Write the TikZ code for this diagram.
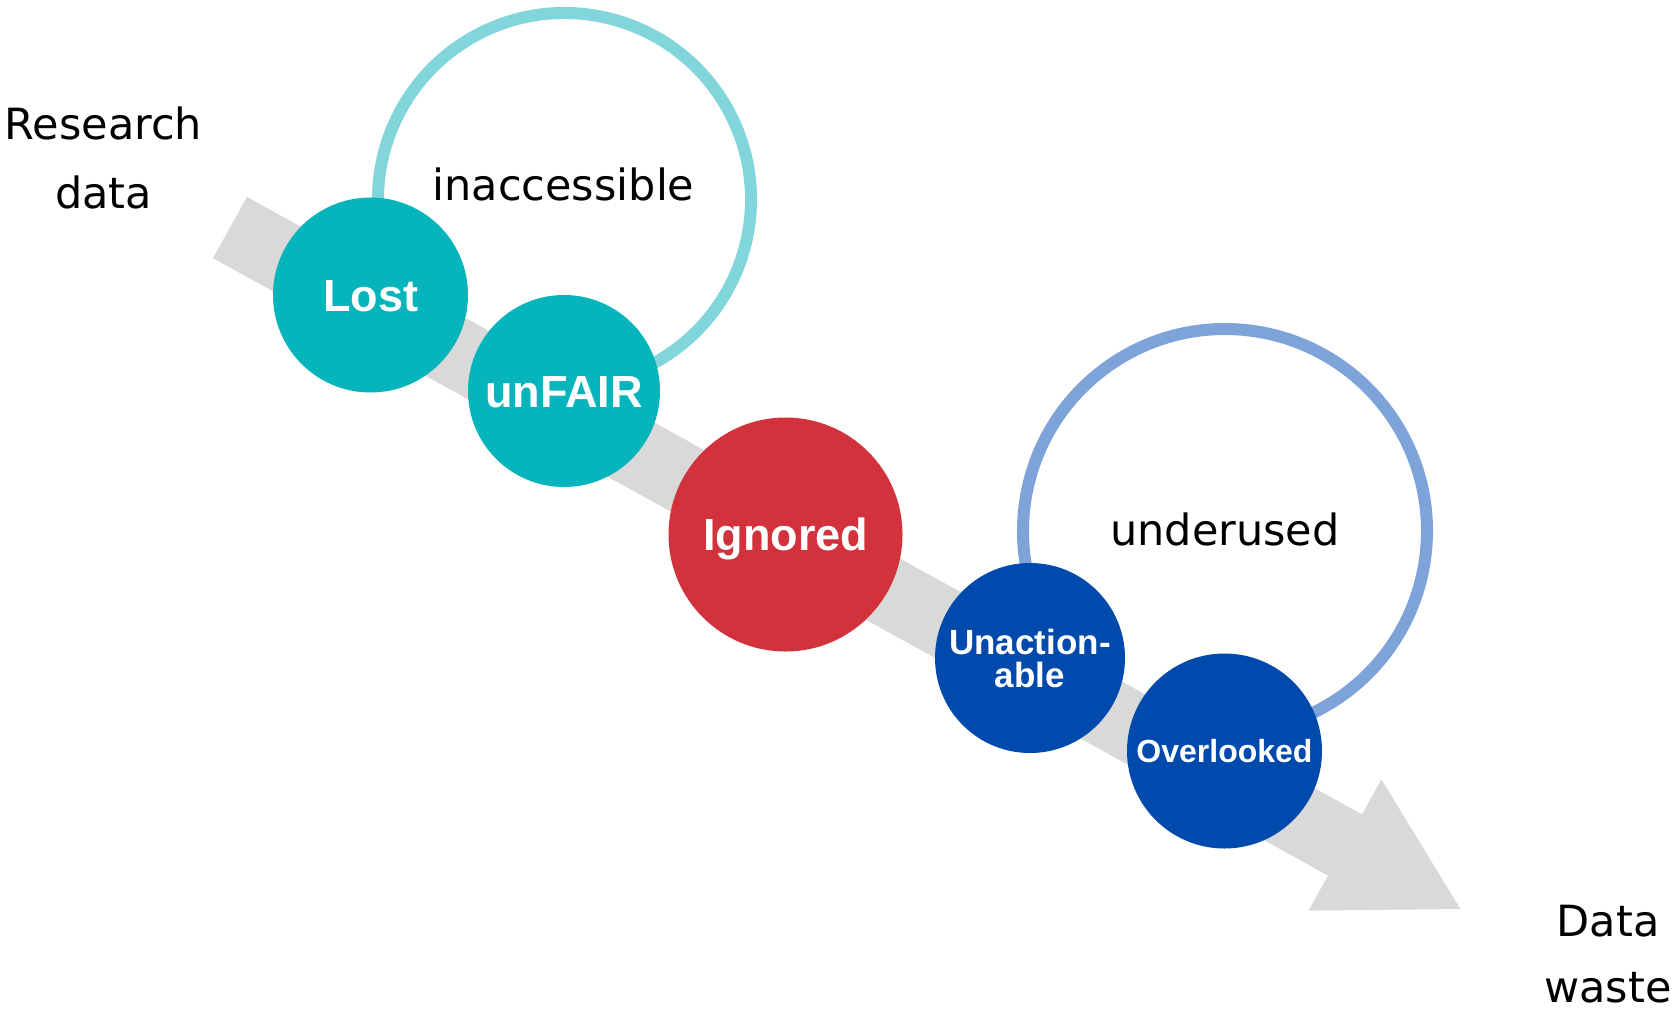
\documentclass[tikz,border=0pt]{standalone}
\usepackage{fontspec}
\setmainfont{DejaVu Sans}
\newfontfamily\labfont{Liberation Sans}
\definecolor{tealc}{RGB}{6,180,188}
\definecolor{ringa}{RGB}{128,214,219}
\definecolor{redc}{RGB}{210,50,59}
\definecolor{bluec}{RGB}{0,73,173}
\definecolor{ringb}{RGB}{125,163,216}
\definecolor{arrowgray}{RGB}{217,217,217}
\begin{document}
\begin{tikzpicture}[x=1pt,y=-1pt,
  plain/.style={font=\fontsize{43}{69}\selectfont, align=center, text=black, inner sep=0pt},
  bubble/.style={circle, inner sep=0pt, text=white, font=\labfont\bfseries\fontsize{45}{45}\selectfont, text height=32pt, text depth=0pt},
  ring/.style={line width=12pt}
]
\useasboundingbox (0,0) rectangle (1675,1013);
\fill[white] (0,0) rectangle (1675,1013);

% grey arrow
\fill[arrowgray] (247,196.9) -- (1362,814.4) -- (1381.4,779.4) -- (1460.4,909)
  -- (1308.6,910.6) -- (1328,875.6) -- (213,258.1) -- cycle;

% rings (open arcs, ends hidden under the circles)
\coordinate (ringac) at (564.5,199.5);
\coordinate (ringbc) at (1225,531);
\draw[ring, ringa] ([shift={(150:186.5)}]ringac) arc[start angle=150, end angle=455, radius=186.5];
\draw[ring, ringb] ([shift={(143:202)}]ringbc) arc[start angle=143, end angle=455, radius=202];

% circles
\node[bubble, fill=tealc, minimum size=195pt] (lost) at (370.5,295) {Lost};
\node[bubble, fill=tealc, minimum size=192pt] (unfair) at (564,391) {unFAIR};
\node[bubble, fill=redc, minimum size=234pt] (ignored) at (785.5,534.5) {Ignored};
\node[circle, inner sep=0pt, text=white, fill=bluec, minimum size=190pt, align=center,
      font=\labfont\bfseries\fontsize{35}{33}\selectfont] (unaction) at (1030,658) {Unaction-\\able};
\node[bubble, fill=bluec, minimum size=195pt, font=\labfont\bfseries\fontsize{32}{32}\selectfont, text height=23pt] (overlooked) at (1224.5,751) {Overlooked};

% labels
\node[plain] (research) at (103.5,158) {Research\\data};
\node[plain, anchor=base] (inacc) at (563.5,200) {inaccessible};
\node[plain, anchor=base] (underused) at (1225,545) {underused};
\node[plain, font=\fontsize{43}{66}\selectfont] (waste) at (1608,954.5) {Data\\waste};
\end{tikzpicture}
\end{document}
